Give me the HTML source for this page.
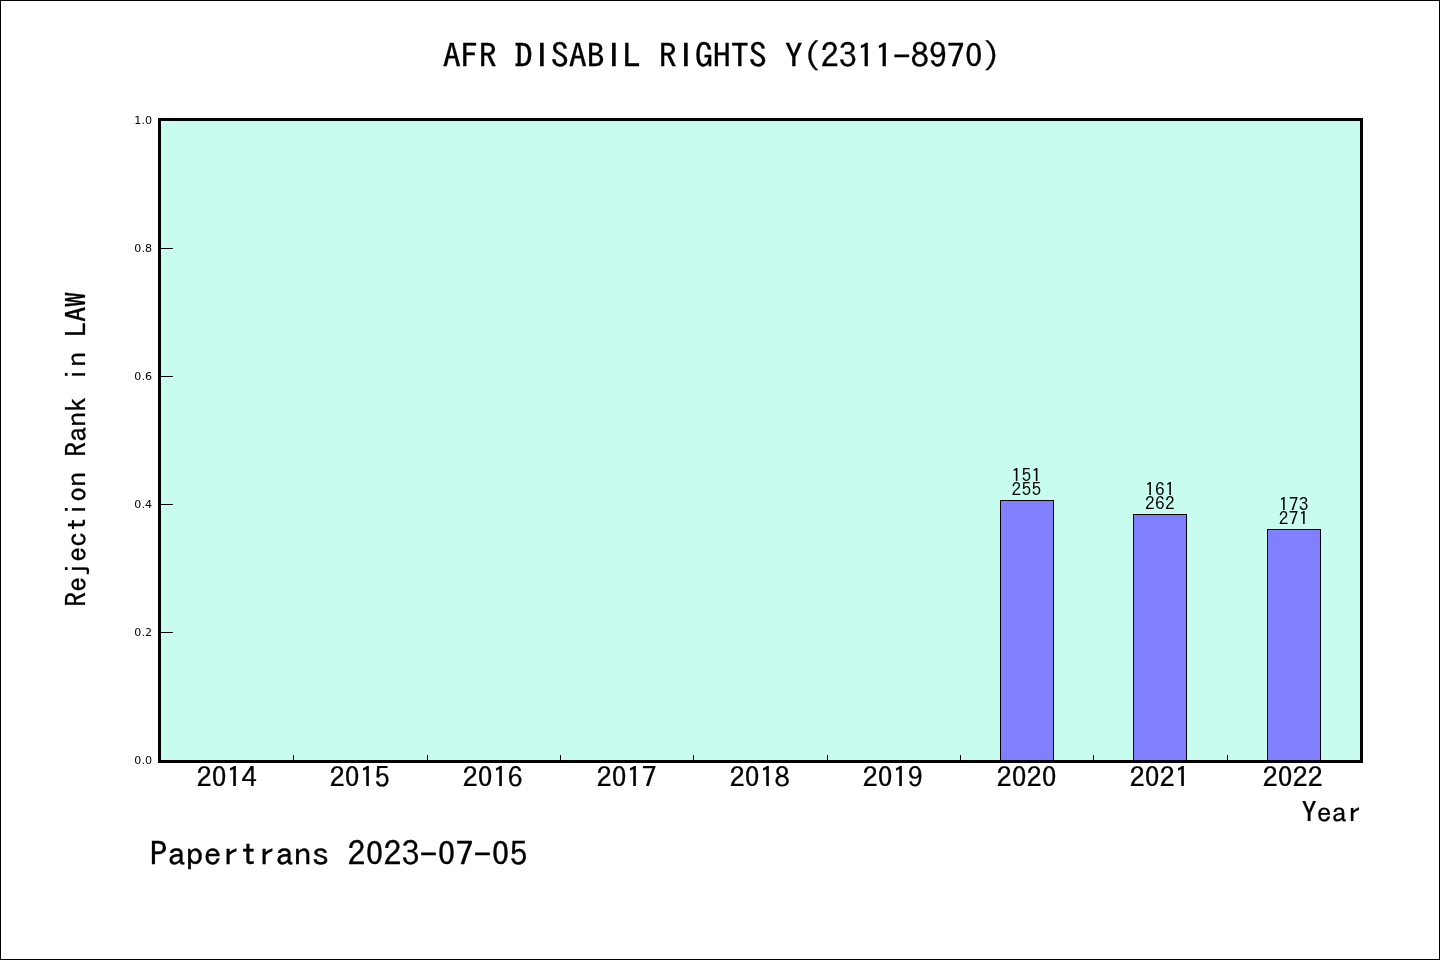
<!DOCTYPE html>
<html lang="en">
<head>
<meta charset="utf-8">
<title>AFR DISABIL RIGHTS Y(2311-8970)</title>
<style>
html,body{margin:0;padding:0;background:#fff;}
body{width:1440px;height:960px;position:relative;overflow:hidden;}
#fig{position:absolute;left:0;top:0;width:1438px;height:958px;border:1px solid #000;background:#fff;}
.t{position:absolute;white-space:pre;color:#000;line-height:1;margin:0;padding:0;
  font-family:"IPAGothic","WenQuanYi Zen Hei Mono","Noto Sans Mono CJK JP","Liberation Mono",monospace;transform-origin:0 0;transform:scaleY(0.91);-webkit-text-stroke:0.0083em #000;}
.z{font-family:"Noto Sans CJK SC","Noto Sans CJK JP","IPAGothic",monospace;font-weight:350;font-feature-settings:"hwid";line-height:0;position:relative;top:-0.0425em;}
.dv{position:absolute;white-space:pre;color:#000;line-height:1;font-family:"DejaVu Sans","Liberation Sans",sans-serif;font-size:11.11px;text-align:right;width:40px;}
#plot{position:absolute;left:158px;top:118px;width:1199px;height:639px;border:3px solid #000;background:#c8fcee;}
.bar{position:absolute;background:#8080ff;border:1px solid #000;box-sizing:border-box;}
.xt{position:absolute;width:1px;height:5px;background:#000;top:755px;}
.yt{position:absolute;height:1px;width:12px;background:#000;left:161px;}
.i{font-family:"Liberation Sans","DejaVu Sans",sans-serif;font-size:1.0145em;line-height:0;position:relative;top:-0.05em;padding:0 0.1075em;}
.big{font-size:36.11px;letter-spacing:-0.055px;}
.mid{font-size:30.56px;letter-spacing:-0.28px;}
.sm{font-size:19.44px;letter-spacing:0.28px;-webkit-text-stroke:0;}
</style>
</head>
<body>
<div id="fig"></div>
<div id="plot"></div>

<div class="t big" id="title" style="left:442.7px;top:39px;">AFR D<span class="i">I</span>SAB<span class="i">I</span>L R<span class="i">I</span>GHTS Y(2311-897<span class="z">0</span>)</div>
<div class="t big" id="foot" style="left:149.5px;top:837px;">Papertrans 2<span class="z">0</span>23-<span class="z">0</span>7-<span class="z">0</span>5</div>
<div class="t mid" id="xlabel" style="left:1301.5px;top:798px;">Year</div>
<div class="t mid" id="ylabel" style="left:62px;top:606.5px;transform:rotate(-90deg) scaleY(0.91);">Rejection Rank in LAW</div>

<div class="bar" style="left:1000px;top:500px;width:54px;height:261px;"></div>
<div class="bar" style="left:1133px;top:514px;width:54px;height:247px;"></div>
<div class="bar" style="left:1267px;top:529px;width:54px;height:232px;"></div>

<div class="xt" style="left:293px"></div>
<div class="xt" style="left:427px"></div>
<div class="xt" style="left:560px"></div>
<div class="xt" style="left:693px"></div>
<div class="xt" style="left:827px"></div>
<div class="xt" style="left:960px"></div>
<div class="xt" style="left:1093px"></div>
<div class="xt" style="left:1227px"></div>

<div class="yt" style="top:248px"></div>
<div class="yt" style="top:376px"></div>
<div class="yt" style="top:504px"></div>
<div class="yt" style="top:632px"></div>

<div class="dv" style="left:112px;top:115px;">1.0</div>
<div class="dv" style="left:112px;top:243px;">0.8</div>
<div class="dv" style="left:112px;top:371px;">0.6</div>
<div class="dv" style="left:112px;top:499px;">0.4</div>
<div class="dv" style="left:112px;top:627px;">0.2</div>
<div class="dv" style="left:112px;top:755px;">0.0</div>

<div class="t mid xl" style="left:196.6px;top:763px;">2<span class="z">0</span>14</div>
<div class="t mid xl" style="left:329.6px;top:763px;">2<span class="z">0</span>15</div>
<div class="t mid xl" style="left:462.6px;top:763px;">2<span class="z">0</span>16</div>
<div class="t mid xl" style="left:596.6px;top:763px;">2<span class="z">0</span>17</div>
<div class="t mid xl" style="left:729.6px;top:763px;">2<span class="z">0</span>18</div>
<div class="t mid xl" style="left:862.6px;top:763px;">2<span class="z">0</span>19</div>
<div class="t mid xl" style="left:996.6px;top:763px;">2<span class="z">0</span>2<span class="z">0</span></div>
<div class="t mid xl" style="left:1129.6px;top:763px;">2<span class="z">0</span>21</div>
<div class="t mid xl" style="left:1262.6px;top:763px;">2<span class="z">0</span>22</div>

<div class="t sm" style="left:1011.5px;top:466.93px;">151</div>
<div class="t sm" style="left:1011.5px;top:480.93px;">255</div>
<div class="t sm" style="left:1145.1px;top:480.93px;">161</div>
<div class="t sm" style="left:1145.1px;top:494.93px;">262</div>
<div class="t sm" style="left:1278.8px;top:495.93px;">173</div>
<div class="t sm" style="left:1278.8px;top:509.93px;">271</div>
</body>
</html>
